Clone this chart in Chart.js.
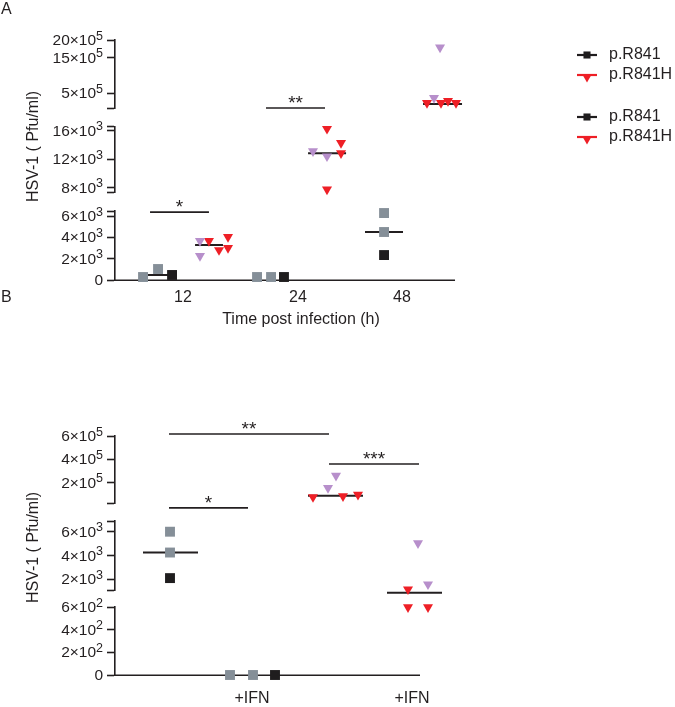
<!DOCTYPE html>
<html>
<head>
<meta charset="utf-8">
<script src="https://cdn.jsdelivr.net/npm/chart.js@4.4.1/dist/chart.umd.min.js"></script>
<style>
  body { margin: 0; background: #fff; }
  #wrap { position: relative; width: 675px; height: 707px; overflow: hidden; font-family: "Liberation Sans", Arial, sans-serif; }
  canvas { position: absolute; left: 0; }
  #chartA { top: 0; }
  #chartB { top: 340px; }
  .panel { position: absolute; left: 1px; font-size: 16px; color: #231f20; }
</style>
</head>
<body>
<div id="wrap">
  <canvas id="chartA" width="675" height="340"></canvas>
  <canvas id="chartB" width="675" height="367"></canvas>
  <div class="panel" style="top:0px">A</div>
  <div class="panel" style="top:288px">B</div>
</div>
<script>
// ---------- panel A : HSV-1 titre over time ----------
const timeLabels = ['12', '24', '48'];
const timeSlots = [1, 2.05, 3];   // x value under each time label
// points: [x (slot + scatter jitter), Pfu/ml, clone]  clone 0 = grey/lilac, 1 = black/red
const wt12 = [[0.635, 280, 0], [0.772, 1030, 0], [0.90, 470, 1]];
const wt24 = [[1.676, 280, 0], [1.804, 280, 0], [1.922, 280, 1]];
const wt48 = [[2.836, 6280, 0], [2.836, 4500, 0], [2.836, 2340, 1]];
const mut12 = [[1.155, 3660, 0], [1.155, 2250, 0], [1.237, 3660, 1], [1.329, 2810, 1], [1.411, 4030, 1], [1.411, 3000, 1]];
const mut24 = [[2.187, 13130, 0], [2.315, 12420, 0], [2.315, 16280, 1], [2.443, 14300, 1], [2.443, 12850, 1], [2.315, 7770, 1]];
const mut48 = [[3.347, 1790000, 0], [3.292, 372000, 0], [3.228, 230000, 1], [3.356, 230000, 1], [3.42, 287000, 1], [3.493, 230000, 1]];
// medians: [x from, x to, Pfu/ml]
const mediansA = [[0.60, 0.92, 470], [1.11, 1.365, 3280], [2.142, 2.489, 12850], [2.662, 3.009, 4500], [3.192, 3.548, 202000]];
// significance bars: [x from, x to, Pfu/ml level, stars]
const sigA = [[0.699, 1.237, 6370, '*'], [1.758, 2.297, 88000, '**']];
// broken y axis, top to bottom: [min, max, labelled ticks, exponent]
const segA = [
  [88000, 2000000, [500000, 1500000, 2000000], 5],
  [7340, 16600, [8000, 12000, 16000], 3],
  [0, 6470, [0, 2000, 4000, 6000], 3]
];

// ---------- panel B : IFN treatment ----------
const ifnLabels = ['+IFN', '+IFN'];
const ifnSlots = [2, 4];
const bWt = [[0.975, 6000, 0], [0.975, 4250, 0], [0.975, 2100, 1]];
const bWtIfn = [[1.725, 0, 0], [2.0125, 0, 0], [2.2875, 0, 1]];
const bMut = [[3.05, 260000, 0], [2.95, 155000, 0], [2.7625, 77000, 1], [3.1375, 85000, 1], [3.325, 97000, 1]];
const bMutIfn = [[4.075, 5030, 0], [4.2, 1580, 0], [3.95, 1160, 1], [3.95, 598, 1], [4.2, 598, 1]];
const mediansB = [[0.6375, 1.325, 4250], [2.70, 3.3875, 88000], [3.6875, 4.375, 873]];
const sigB = [[0.9625, 2.9625, 617000, '**'], [0.9625, 1.95, 8000, '*'], [2.9625, 4.0875, 360000, '***']];
const segB = [
  [23500, 600000, [200000, 400000, 600000], 5],
  [1100, 6900, [2000, 4000, 6000], 3],
  [0, 600, [0, 200, 400, 600], 2]
];

const legendNames = ['p.R841', 'p.R841H', 'p.R841', 'p.R841H'];

// ---------- drawing ----------
const INK = '#231f20';
const FONT = '"Liberation Sans", Arial, sans-serif';
const COLORS = { rect: ['#858f98', '#1f1d1e'], triangle: ['#b78fcb', '#ee1f26'] };

function segIndex(segs, v) {
  let best = 0, bestD = Infinity;
  segs.forEach((s, i) => {
    const d = v < s[0] ? s[0] - v : v > s[1] ? v - s[1] : 0;
    if (d < bestD) { bestD = d; best = i; }
  });
  return best;
}

function marker(ctx, shape, r, x, y) {
  Chart.helpers.drawPoint(ctx, { pointStyle: shape, radius: r, rotation: shape === 'triangle' ? 180 : 0, borderWidth: 0 }, x, y);
}

function buildPanel(id, cfg) {
  const n = cfg.segs.length;
  const datasets = [];

  cfg.groups.forEach(([pts, shape]) => {
    [0, 1].forEach(clone => {
      cfg.segs.forEach((seg, si) => {
        const data = pts.filter(p => p[2] === clone && segIndex(cfg.segs, p[1]) === si)
          .map(p => ({ x: p[0], y: p[1] }));
        if (!data.length) return;
        datasets.push({
          data,
          yAxisID: 'y' + si,
          pointStyle: shape,
          pointRotation: shape === 'triangle' ? 180 : 0,
          pointRadius: shape === 'rect' ? 7 : 5.8,
          pointHoverRadius: shape === 'rect' ? 7 : 5.8,
          backgroundColor: COLORS[shape][clone],
          pointBorderWidth: 0,
          clip: false,
          order: 1
        });
      });
    });
  });

  cfg.medians.forEach(([a, b, v]) => {
    datasets.push({
      data: [{ x: a, y: v }, { x: b, y: v }],
      yAxisID: 'y' + segIndex(cfg.segs, v),
      showLine: true,
      borderColor: INK,
      borderWidth: 2,
      pointRadius: 0,
      clip: false,
      order: 2
    });
  });

  const scales = {
    x: {
      type: 'linear',
      min: cfg.xMin,
      max: cfg.xMax,
      afterBuildTicks: s => { s.ticks = cfg.xSlots.map(v => ({ value: v })); },
      afterFit: s => { s.height = cfg.xBoxH; },
      ticks: {
        autoSkip: false, maxRotation: 0, padding: cfg.xTickPad, color: INK,
        font: { family: FONT, size: 16 },
        callback: (v, i) => cfg.xLabels[i]
      },
      grid: { display: false, drawTicks: false },
      border: { display: false },
      title: { display: false }
    }
  };

  cfg.segs.forEach((seg, i) => {
    const tickVals = [...new Set([seg[0], ...seg[2], seg[1]])];
    scales['y' + i] = {
      type: 'linear',
      position: 'left',
      stack: 'v',
      stackWeight: cfg.segH[i],
      weight: 10 - 2 * i,
      min: seg[0],
      max: seg[1],
      afterBuildTicks: s => { s.ticks = tickVals.map(v => ({ value: v })); },
      afterFit: s => { s.width = 115; },
      ticks: { display: false },
      grid: { drawOnChartArea: false, drawTicks: true, tickLength: 8, tickColor: INK, tickWidth: 1.6 },
      border: { display: true, color: INK, width: 1.6 }
    };
    if (i < n - 1) {
      scales['gap' + i] = {
        type: 'linear',
        position: 'left',
        stack: 'v',
        stackWeight: cfg.gapH[i],
        weight: 9 - 2 * i,
        min: 0,
        max: 1,
        afterFit: s => { s.width = 115; },
        ticks: { display: false },
        grid: { display: false },
        border: { display: false }
      };
    }
  });

  const decor = {
    id: 'decor',
    beforeDatasetsDraw(chart) {
      // x axis line, stopping where the original axis stops
      const ctx = chart.ctx;
      const xs = chart.scales.x;
      const y = Math.round(xs.top) + 0.2;
      ctx.save();
      ctx.strokeStyle = INK;
      ctx.lineWidth = 1.6;
      ctx.beginPath();
      ctx.moveTo(chart.scales.y0.right - 0.8, y);
      ctx.lineTo(xs.getPixelForValue(cfg.xLineEnd), y);
      ctx.stroke();
      ctx.restore();
    },
    afterDatasetsDraw(chart) {
      const ctx = chart.ctx;
      const xs = chart.scales.x;
      ctx.save();
      ctx.fillStyle = INK;
      ctx.strokeStyle = INK;

      // y tick labels with raised exponents
      cfg.segs.forEach((seg, i) => {
        const sc = chart.scales['y' + i];
        seg[2].forEach(v => {
          const y = sc.getPixelForValue(v);
          const base = v === 0 ? '0' : Math.round(v / Math.pow(10, seg[3])) + '×10';
          const sup = v === 0 ? '' : String(seg[3]);
          ctx.font = '15.5px ' + FONT;
          const wb = ctx.measureText(base).width;
          ctx.font = '12.5px ' + FONT;
          const ws = sup ? ctx.measureText(sup).width : 0;
          const x0 = sc.right - 12 - wb - ws;
          ctx.textAlign = 'left';
          ctx.textBaseline = 'alphabetic';
          ctx.font = '15.5px ' + FONT;
          ctx.fillText(base, x0, y + 5);
          if (sup) {
            ctx.font = '12.5px ' + FONT;
            ctx.fillText(sup, x0 + wb, y - 0.5);
          }
        });
      });

      // y axis title
      const top = chart.scales.y0.top;
      const bot = chart.scales['y' + (n - 1)].bottom;
      ctx.save();
      ctx.translate(34, (top + bot) / 2 + cfg.yTitleShift);
      ctx.rotate(-Math.PI / 2);
      ctx.font = '16px ' + FONT;
      ctx.textAlign = 'center';
      ctx.textBaseline = 'middle';
      ctx.fillText('HSV-1 ( Pfu/ml)', 0, 0);
      ctx.restore();

      // x axis title, centred under the middle time point
      if (cfg.xTitle) {
        ctx.font = '16px ' + FONT;
        ctx.textAlign = 'center';
        ctx.textBaseline = 'middle';
        ctx.fillText(cfg.xTitle, xs.getPixelForValue(cfg.xSlots[1]) + 3, xs.bottom - 20.6);
      }

      // significance bars
      ctx.lineWidth = 1.7;
      cfg.sigs.forEach(([a, b, v, stars]) => {
        const sc = chart.scales['y' + segIndex(cfg.segs, v)];
        const y = sc.getPixelForValue(v);
        const x1 = xs.getPixelForValue(a);
        const x2 = xs.getPixelForValue(b);
        ctx.beginPath();
        ctx.moveTo(x1, y);
        ctx.lineTo(x2, y);
        ctx.stroke();
        ctx.font = '19px ' + FONT;
        ctx.textAlign = 'center';
        ctx.textBaseline = 'alphabetic';
        ctx.fillText(stars, (x1 + x2) / 2, y + 1);
      });

      // legend
      if (cfg.legend) {
        const rows = [55, 75, 117, 137];
        cfg.legend.forEach((name, k) => {
          const y = rows[k];
          const shape = k % 2 === 0 ? 'rect' : 'triangle';
          const col = COLORS[shape][1];
          ctx.strokeStyle = col;
          ctx.fillStyle = col;
          ctx.lineWidth = 2.2;
          ctx.beginPath();
          ctx.moveTo(577, y);
          ctx.lineTo(597, y);
          ctx.stroke();
          if (shape === 'rect') marker(ctx, 'rect', 5, 587, y);
          else marker(ctx, 'triangle', 5, 587, y + 2.5);
          ctx.fillStyle = INK;
          ctx.font = '16px ' + FONT;
          ctx.textAlign = 'left';
          ctx.textBaseline = 'middle';
          ctx.fillText(name, 609, y);
        });
      }
      ctx.restore();
    }
  };

  return new Chart(document.getElementById(id), {
    type: 'scatter',
    data: { datasets },
    options: {
      responsive: false,
      animation: false,
      events: [],
      layout: { padding: cfg.pad },
      plugins: { legend: { display: false }, tooltip: { enabled: false } },
      scales
    },
    plugins: [decor]
  });
}

buildPanel('chartA', {
  segs: segA,
  segH: [68, 66, 69],
  gapH: [18.5, 18.5],
  groups: [[wt12, 'rect'], [wt24, 'rect'], [wt48, 'rect'], [mut12, 'triangle'], [mut24, 'triangle'], [mut48, 'triangle']],
  medians: mediansA,
  sigs: sigA,
  xMin: 0.379, xMax: 3.65, xLineEnd: 3.484,
  xSlots: timeSlots, xLabels: timeLabels,
  xBoxH: 60, xTickPad: 8,
  xTitle: 'Time post infection (h)',
  yTitleShift: -13.5,
  legend: legendNames,
  pad: { top: 40, left: 0, right: 201.8, bottom: 0 }
});

buildPanel('chartB', {
  segs: segB,
  segH: [67.3, 69, 68],
  gapH: [17.7, 17],
  groups: [[bWt, 'rect'], [bWtIfn, 'rect'], [bMut, 'triangle'], [bMutIfn, 'triangle']],
  medians: mediansB,
  sigs: sigB,
  xMin: 0.2875, xMax: 4.5, xLineEnd: 4.1,
  xSlots: ifnSlots, xLabels: ifnLabels,
  xBoxH: 32, xTickPad: 14,
  xTitle: null,
  yTitleShift: -8,
  legend: null,
  pad: { top: 96, left: 0, right: 223, bottom: 0 }
});
</script>
</body>
</html>
